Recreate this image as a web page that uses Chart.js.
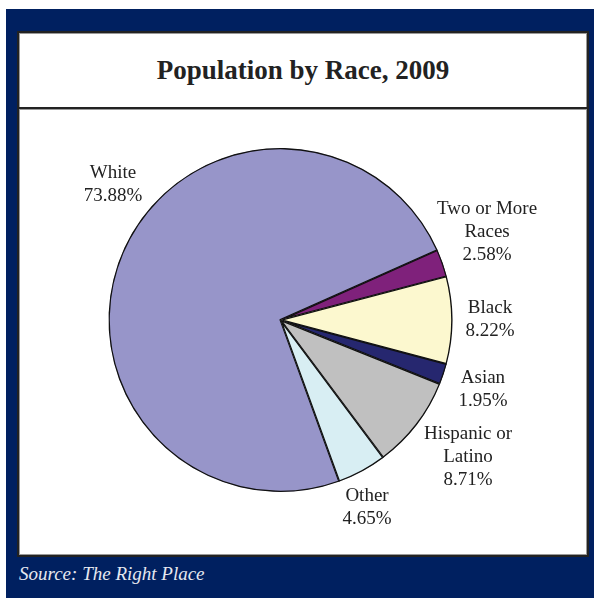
<!DOCTYPE html>
<html>
<head>
<meta charset="utf-8">
<script src="https://cdn.jsdelivr.net/npm/chart.js@4"></script>
<style>
  html, body { margin: 0; padding: 0; background: #fff; }
  #page { position: relative; width: 594px; height: 599px; overflow: hidden; }
  #frame { position: absolute; left: 6px; top: 9px; right: 0; bottom: 1px; background: #002060; }
  #panel {
    position: absolute; left: 17px; top: 31px; width: 568px; height: 522px;
    background: #fff; border: 2px solid #222; box-shadow: inset 0 0 0 1px #999;
  }
  #title {
    position: absolute; left: 0; top: 0; width: 100%; height: 74px;
    border-bottom: 2px solid #222; box-shadow: 0 1px 0 #999;
    font: bold 27px "Liberation Serif", serif; color: #222;
    display: flex; align-items: center; justify-content: center;
  }
  #source {
    position: absolute; left: 19px; top: 563px;
    font: italic 19px "Liberation Serif", serif; color: #e6e8f0;
  }
  #chart { position: absolute; left: 0; top: 0; }
</style>
</head>
<body>
<div id="page">
  <div id="frame"></div>
  <div id="panel"><div id="title">Population by Race, 2009</div></div>
  <div id="source">Source: The Right Place</div>
  <canvas id="chart" width="594" height="599"></canvas>
</div>
<script>
// ── Population by Race, 2009 ──
const races    = ['White', 'Two or More Races', 'Black', 'Asian', 'Hispanic or Latino', 'Other'];
const shares   = [73.88, 2.58, 8.22, 1.95, 8.71, 4.65];
const labelRows = [['White'], ['Two or More', 'Races'], ['Black'], ['Asian'], ['Hispanic or', 'Latino'], ['Other']];
const sliceColors = ['#9795c9', '#7f217b', '#fcf8cf', '#26276f', '#c0c0c0', '#d8eef3'];

// where each label block sits, as a fraction of the radius from the centre
const labelSpots = [[-0.974, -0.788], [1.201, -0.512], [1.218, 0], [1.177, 0.407], [1.090, 0.797], [0.503, 1.093]];

const sliceLabels = {
  id: 'sliceLabels',
  afterDatasetsDraw(c) {
    const ctx  = c.ctx;
    const arcs = c.getDatasetMeta(0).data;
    ctx.save();
    ctx.font = '19px "Liberation Serif", serif';
    ctx.fillStyle = '#222';
    ctx.textAlign = 'center';
    ctx.textBaseline = 'middle';
    const lh = 23;
    arcs.forEach((a, i) => {
      const lines = [...labelRows[i], shares[i].toFixed(2) + '%'];
      const cx = a.x + labelSpots[i][0] * a.outerRadius;
      const cy = a.y + labelSpots[i][1] * a.outerRadius;
      const y0 = cy - (lines.length - 1) * lh / 2;
      lines.forEach((t, k) => ctx.fillText(t, cx, y0 + k * lh));
    });
    ctx.restore();
  }
};

new Chart(document.getElementById('chart').getContext('2d'), {
  type: 'pie',
  data: {
    labels: races,
    datasets: [{
      data: shares,
      backgroundColor: sliceColors,
      borderColor: '#111',
      borderWidth: 1,
      borderAlign: 'inner',
      radius: 172,
    }]
  },
  options: {
    responsive: false,
    animation: false,
    rotation: 160,
    layout: { padding: { left: 0, right: 33, top: 141, bottom: 100 } },
    plugins: { legend: { display: false }, tooltip: { enabled: false } },
  },
  plugins: [sliceLabels],
});
</script>
</body>
</html>
